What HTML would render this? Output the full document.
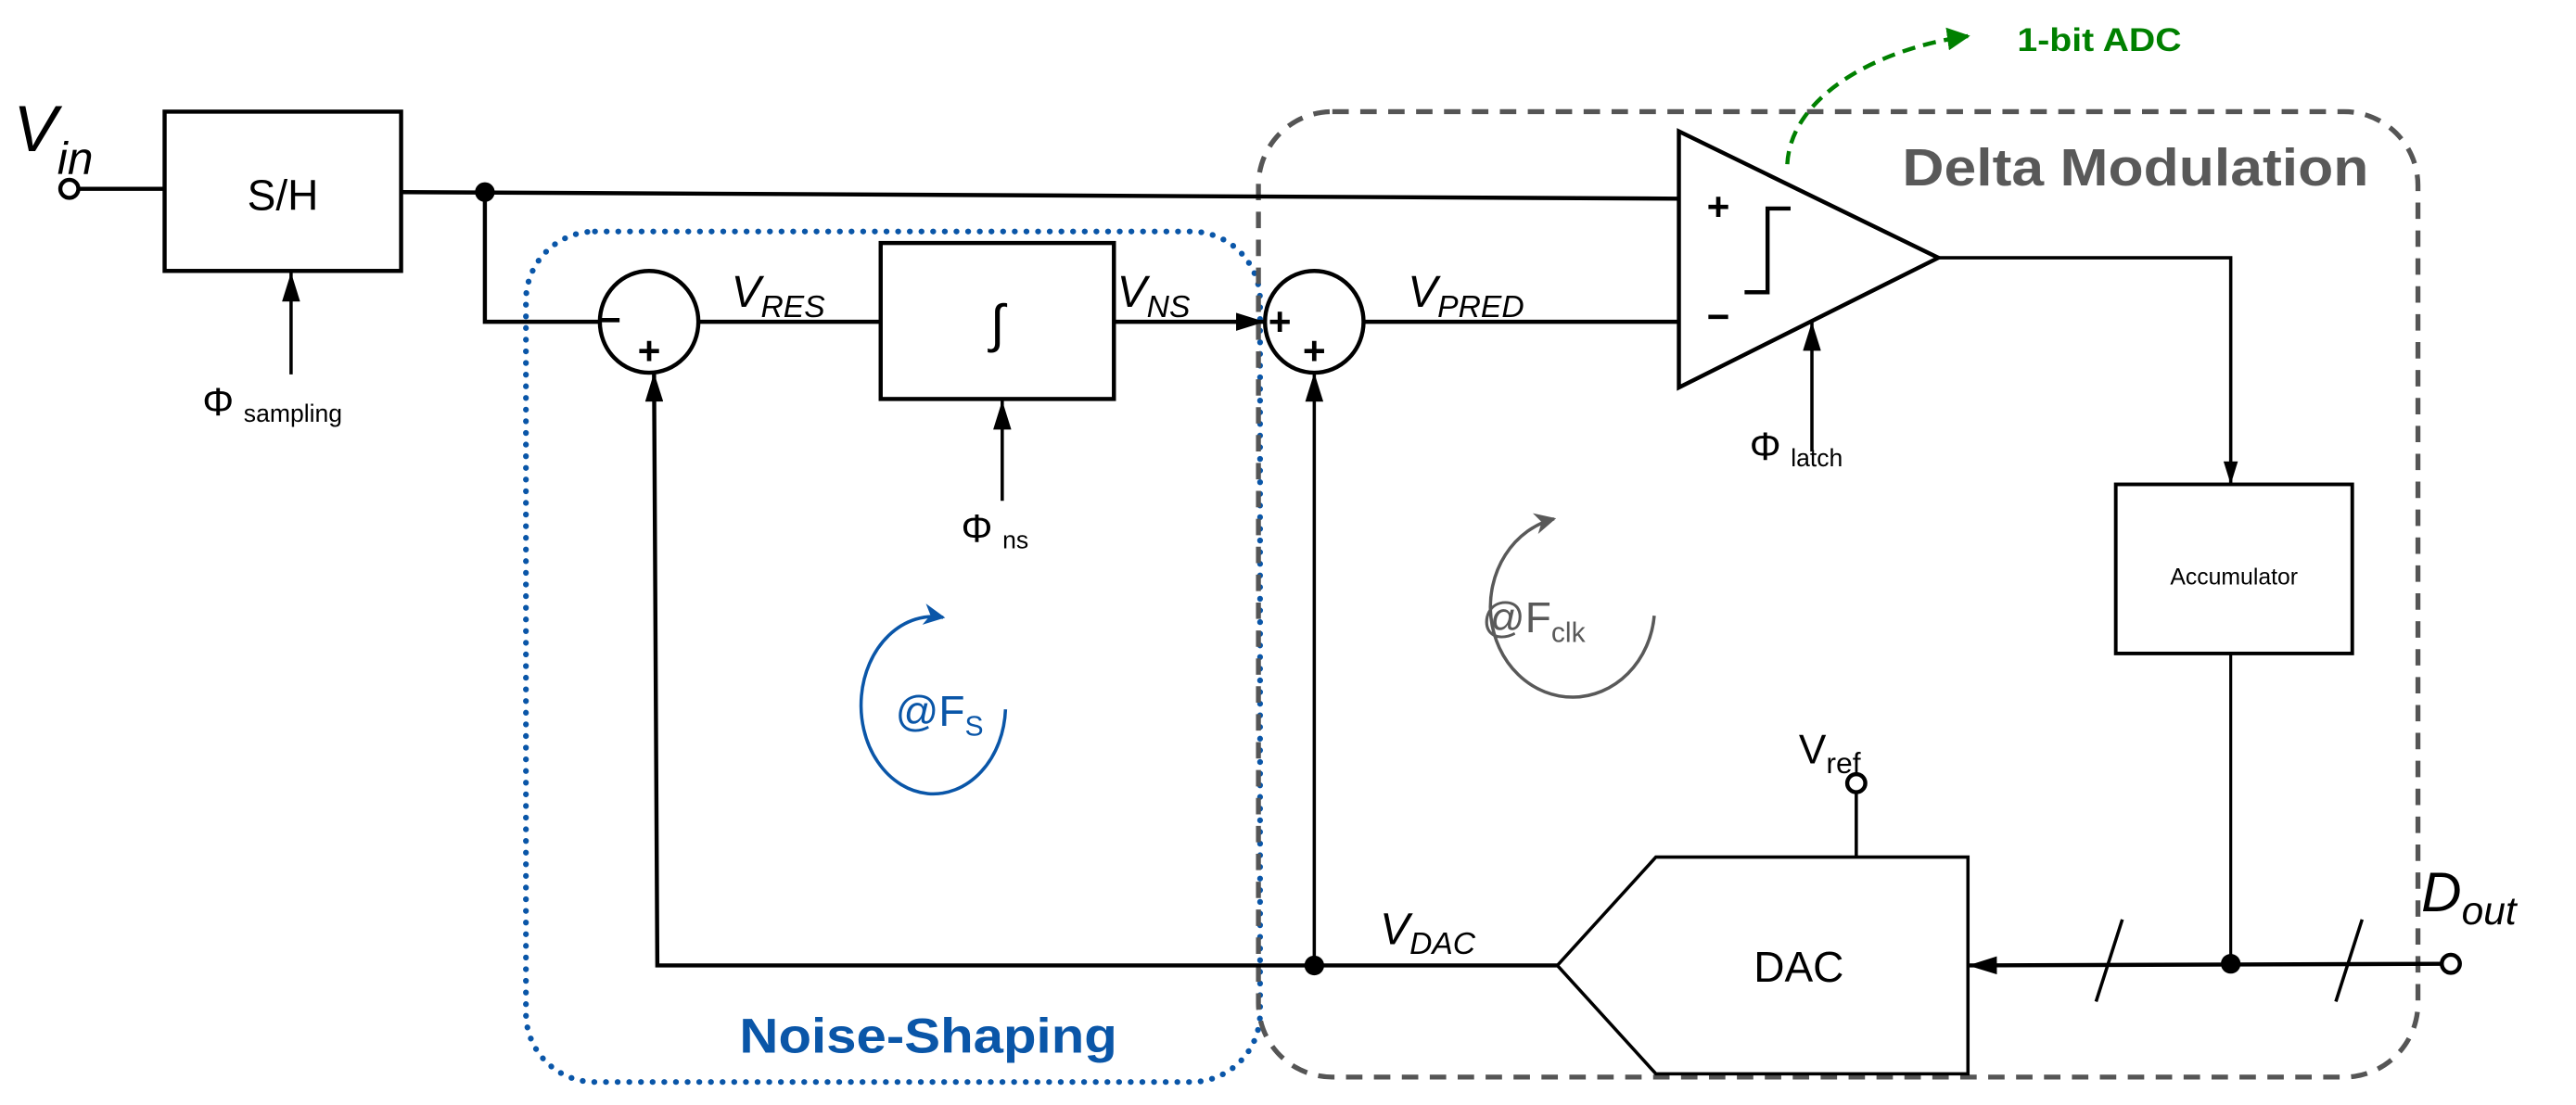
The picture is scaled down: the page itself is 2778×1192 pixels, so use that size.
<!DOCTYPE html>
<html><head><meta charset="utf-8"><style>
html,body{margin:0;padding:0;background:#fff;}
svg{display:block;}
text{font-family:"Liberation Sans",sans-serif;}
</style></head><body>
<svg width="2778" height="1192" viewBox="0 0 1568 673" xmlns="http://www.w3.org/2000/svg">
<defs>
<marker id="ah" viewBox="0 0 16 10" refX="16" refY="5" markerWidth="14" markerHeight="9" markerUnits="userSpaceOnUse" orient="auto"><path d="M0,0 L16,5 L0,10 z" fill="#000"/></marker>
<marker id="ahb" viewBox="0 0 16 10" refX="16" refY="5" markerWidth="18" markerHeight="11" markerUnits="userSpaceOnUse" orient="auto"><path d="M0,0 L16,5 L0,10 z" fill="#000"/></marker>
<marker id="ag" viewBox="0 0 10 10" refX="9" refY="5" markerWidth="14" markerHeight="14" markerUnits="userSpaceOnUse" orient="auto"><path d="M0,0 L10,5 L0,10 z" fill="#008000"/></marker>
<marker id="abl" viewBox="0 0 10 10" refX="9" refY="5" markerWidth="13" markerHeight="13" markerUnits="userSpaceOnUse" orient="auto"><path d="M0,0 L10,5 L0,10 L3,5 z" fill="#0a56a8"/></marker>
<marker id="agr" viewBox="0 0 10 10" refX="9" refY="5" markerWidth="13" markerHeight="13" markerUnits="userSpaceOnUse" orient="auto"><path d="M0,0 L10,5 L0,10 L3,5 z" fill="#595959"/></marker>
</defs>
<rect x="320" y="141" width="447" height="518" rx="42" fill="none" stroke="#0a56a8" stroke-width="3.5" stroke-dasharray="0.1 7" stroke-linecap="round"/>
<rect x="766" y="68" width="706" height="588" rx="45" fill="none" stroke="#555" stroke-width="3" stroke-dasharray="10 7"/>
<text x="1158" y="113" font-size="32" font-weight="bold" fill="#595959" textLength="284" lengthAdjust="spacingAndGlyphs">Delta Modulation</text>
<text x="450" y="641" font-size="30" font-weight="bold" fill="#0a56a8" textLength="230" lengthAdjust="spacingAndGlyphs">Noise-Shaping</text>
<path d="M1088,100 C1090,60 1140,30 1198,22" fill="none" stroke="#008000" stroke-width="2.5" stroke-dasharray="8 5" marker-end="url(#ag)"/>
<text x="1228" y="31" font-size="20" font-weight="bold" fill="#008000" textLength="100" lengthAdjust="spacingAndGlyphs">1-bit ADC</text>
<g stroke="#000" fill="none" stroke-width="2.5">
<circle cx="42" cy="115" r="5.5" fill="#fff"/>
<line x1="47.5" y1="115" x2="100" y2="115"/>
<rect x="100" y="68" width="144" height="97" fill="#fff"/>
<line x1="244" y1="117" x2="1022" y2="121"/>
<polyline points="295,117 295,196 365,196"/>
<ellipse cx="395" cy="196" rx="30" ry="31"/>
<line x1="425" y1="196" x2="536" y2="196"/>
<rect x="536" y="148" width="142" height="95"/>
<line x1="678" y1="196" x2="770" y2="196" marker-end="url(#ahb)"/>
<ellipse cx="800" cy="196" rx="30" ry="31"/>
<line x1="830" y1="196" x2="1022" y2="196"/>
<polygon points="1022,80 1022,236 1180,157"/>
<polyline points="1062,178 1076,178 1076,127 1090,127"/>
<polyline points="1180,157 1358,157 1358,295" marker-end="url(#ah)" stroke-width="2"/>
<rect x="1288" y="295" width="144" height="103" stroke-width="2.2"/>
<line x1="1358" y1="398" x2="1358" y2="587" stroke-width="1.8"/>
<line x1="1487" y1="587" x2="1198" y2="588" marker-end="url(#ahb)"/>
<circle cx="1492" cy="587" r="5.5" fill="#fff"/>
<line x1="1276" y1="610" x2="1292" y2="560" stroke-width="2"/>
<line x1="1422" y1="610" x2="1438" y2="560" stroke-width="2"/>
<polygon points="948,588 1008,522 1198,522 1198,654 1008,654" stroke-width="2"/>
<circle cx="1130" cy="477" r="5.5" fill="#fff"/>
<line x1="1130" y1="482.5" x2="1130" y2="522" stroke-width="2"/>
<polyline points="948,588 400,588 398,227" marker-end="url(#ahb)"/>
<line x1="800" y1="588" x2="800" y2="227" marker-end="url(#ahb)" stroke-width="2"/>
<line x1="177" y1="228" x2="177" y2="166" marker-end="url(#ahb)" stroke-width="2"/>
<line x1="610" y1="305" x2="610" y2="244" marker-end="url(#ahb)" stroke-width="2"/>
<line x1="1103" y1="275" x2="1103" y2="196" marker-end="url(#ahb)" stroke-width="2"/>
</g>
<circle cx="295" cy="117" r="6" fill="#000"/>
<circle cx="800" cy="588" r="6" fill="#000"/>
<circle cx="1358" cy="587" r="6" fill="#000"/>
<g font-size="24" font-weight="bold" text-anchor="middle" fill="#000">
<text x="371" y="203">−</text><text x="395" y="222">+</text>
<text x="779" y="204">+</text><text x="800" y="222">+</text>
<text x="1046" y="134">+</text><text x="1046" y="201">−</text>
</g>
<g fill="#000">
<text x="8" y="92" font-size="40" font-style="italic">V<tspan font-size="28" dy="14">in</tspan></text>
<text x="172" y="128" font-size="26" text-anchor="middle">S/H</text>
<text x="607" y="208" font-size="32" text-anchor="middle">∫</text>
<text x="123" y="253" font-size="24">Φ<tspan font-size="15" dx="6" dy="4">sampling</tspan></text>
<text x="585" y="330" font-size="24">Φ<tspan font-size="15" dx="6" dy="4">ns</tspan></text>
<text x="1065" y="280" font-size="24">Φ<tspan font-size="15" dx="6" dy="4">latch</tspan></text>
<text x="445" y="187" font-size="27" font-style="italic">V<tspan font-size="19" dy="6">RES</tspan></text>
<text x="680" y="187" font-size="27" font-style="italic">V<tspan font-size="19" dy="6">NS</tspan></text>
<text x="857" y="187" font-size="27" font-style="italic">V<tspan font-size="19" dy="6">PRED</tspan></text>
<text x="840" y="575" font-size="27" font-style="italic">V<tspan font-size="19" dy="6">DAC</tspan></text>
<text x="1095" y="465" font-size="25">V<tspan font-size="18" dy="6">ref</tspan></text>
<text x="1474" y="555" font-size="34" font-style="italic">D<tspan font-size="24" dy="8">out</tspan></text>
<text x="1095" y="598" font-size="26" text-anchor="middle">DAC</text>
<text x="1360" y="356" font-size="14" text-anchor="middle">Accumulator</text>
</g>
<path d="M612,432 A44 54 0 1 1 574,376" fill="none" stroke="#0a56a8" stroke-width="2" marker-end="url(#abl)"/>
<text x="545" y="442" font-size="26" fill="#0a56a8">@F<tspan font-size="17" dy="6">S</tspan></text>
<path d="M1007,375 A50 55 0 1 1 946,316" fill="none" stroke="#595959" stroke-width="2" marker-end="url(#agr)"/>
<text x="902" y="385" font-size="26" fill="#595959">@F<tspan font-size="17" dy="6">clk</tspan></text>
</svg>
</body></html>
